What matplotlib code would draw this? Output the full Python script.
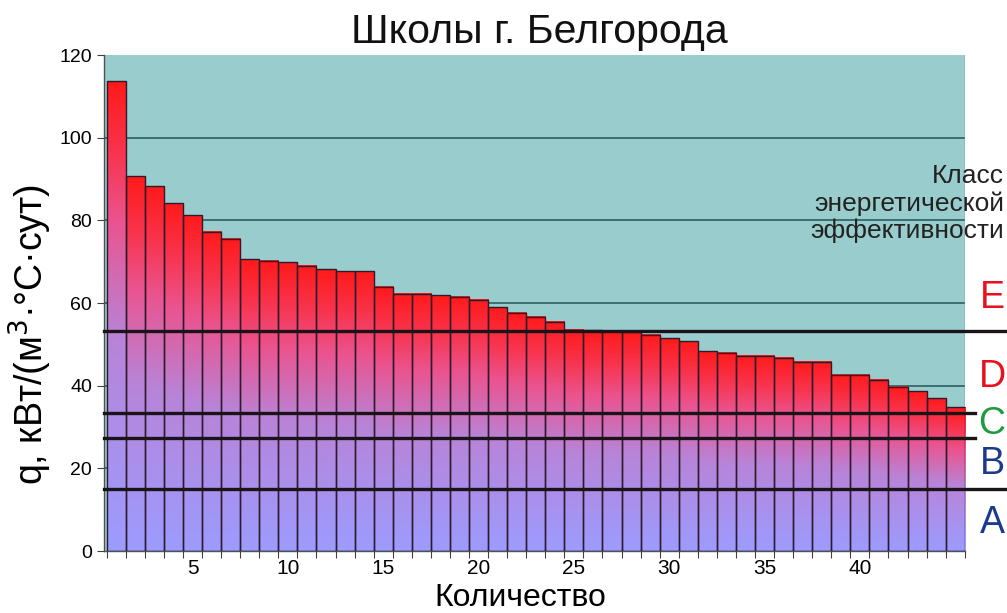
import numpy as np
import matplotlib
matplotlib.use('Agg')
import matplotlib.pyplot as plt
from matplotlib.colors import LinearSegmentedColormap
import matplotlib.transforms as mtransforms

plt.rcParams['font.family'] = ['Liberation Sans', 'DejaVu Sans']

# specific heat consumption of schools, sorted descending
schools = np.arange(1, 46)
q_values = [113.7, 90.7, 88.3, 84.2, 81.3, 77.2, 75.5, 70.6, 70.2, 69.9,
            69.0, 68.2, 67.7, 67.7, 63.9, 62.3, 62.3, 61.9, 61.5, 60.8,
            59.0, 57.7, 56.7, 55.5, 53.6, 53.4, 53.2, 53.0, 52.4, 51.5,
            50.8, 48.3, 48.0, 47.3, 47.3, 46.8, 45.8, 45.8, 42.7, 42.7,
            41.4, 39.7, 38.7, 37.0, 34.8]

# class boundaries and class letters
class_limits = [15.0, 27.4, 33.3, 53.3]
class_names = ['A', 'B', 'C', 'D', 'E']
class_label_y = [6.8, 21.0, 30.7, 42.1, 61.2]
class_colors = ['#1b3a8c', '#1b3a8c', '#1f9a3e', '#e8101c', '#e8101c']

xtick_values = [5, 10, 15, 20, 25, 30, 35, 40]
ytick_values = [0, 20, 40, 60, 80, 100, 120]

NARROW = ['Liberation Sans Narrow', 'Liberation Sans', 'DejaVu Sans']

grad = LinearSegmentedColormap.from_list(
    'bar_grad', [(0.0, '#9c9cff'), (0.45, '#b884d8'), (0.7, '#ea5490'),
                 (0.85, '#f8344e'), (1.0, '#ff1a1a')])

fig = plt.figure(figsize=(10.07, 6.13), dpi=100)
ax = fig.add_axes([0.103, 0.101, 0.855, 0.809])
ax.set_facecolor('#99cccc')

# every bar gets its own bottom-to-top gradient
ramp = np.linspace(0, 1, 256).reshape(-1, 1)
for x, h in zip(schools, q_values):
    ax.imshow(ramp, cmap=grad, origin='lower', aspect='auto',
              extent=[x - 0.5, x + 0.5, 0, h], zorder=2, interpolation='bilinear')
ax.bar(schools, q_values, width=1.0, fill=False, edgecolor='#2e1a2a',
       linewidth=1.0, zorder=3)

ax.set_xlim(0.34, 45.5)
ax.set_ylim(0, 120)

ax.set_yticks(ytick_values)
for y in ytick_values[1:-1]:
    ax.axhline(y, color='#2f5f5f', linewidth=1.2, zorder=1)

ax.set_xticks(np.arange(0.5, 46, 1.0))
ax.set_xticklabels([])
ax.set_xticks(xtick_values, minor=True)
ax.set_xticklabels([str(v) for v in xtick_values], minor=True, family=NARROW)
ax.tick_params(axis='x', which='major', length=5, width=0.8, color='#404040')
ax.tick_params(axis='x', which='minor', length=0, labelsize=15, pad=6)
ax.tick_params(axis='y', length=5, width=0.8, color='#404040', labelsize=14)

for side in ['top', 'right']:
    ax.spines[side].set_visible(False)
for side in ['left', 'bottom']:
    ax.spines[side].set_color('#505050')
    ax.spines[side].set_linewidth(1.0)
ax.axvline(45.5, color='#6a8a8a', linewidth=1.0, zorder=1)

# class boundary lines run past the plot area
trans = mtransforms.blended_transform_factory(ax.transAxes, ax.transData)
line_ends = [1.047, 1.012, 1.012, 1.047]
for y, end in zip(class_limits, line_ends):
    ax.plot([0, end], [y, y], color='#1a1418', linewidth=2.4,
            transform=trans, clip_on=False, zorder=5)

for name, y, c in zip(class_names, class_label_y, class_colors):
    ax.text(1.0317, y, name, color=c, fontsize=27, ha='center', va='center',
            transform=trans, clip_on=False)

fig.text(0.997, 0.668, 'Класс\nэнергетической\nэффективности', ha='right',
         va='center', fontsize=19, color='#222222', linespacing=1.15)

fig.text(0.536, 0.930, 'Школы г. Белгорода', ha='center', va='baseline',
         fontsize=29.5, family=NARROW, color='#111111')
ax.set_xlabel('Количество', fontsize=23, family=NARROW)
ax.xaxis.set_label_coords(0.4835, -0.064)
ax.set_ylabel('q, кВт/(м$^3$·°С·сут)', fontsize=27)
ax.yaxis.set_label_coords(-0.058, 0.4375)

fig.savefig('out.png', dpi=100)
